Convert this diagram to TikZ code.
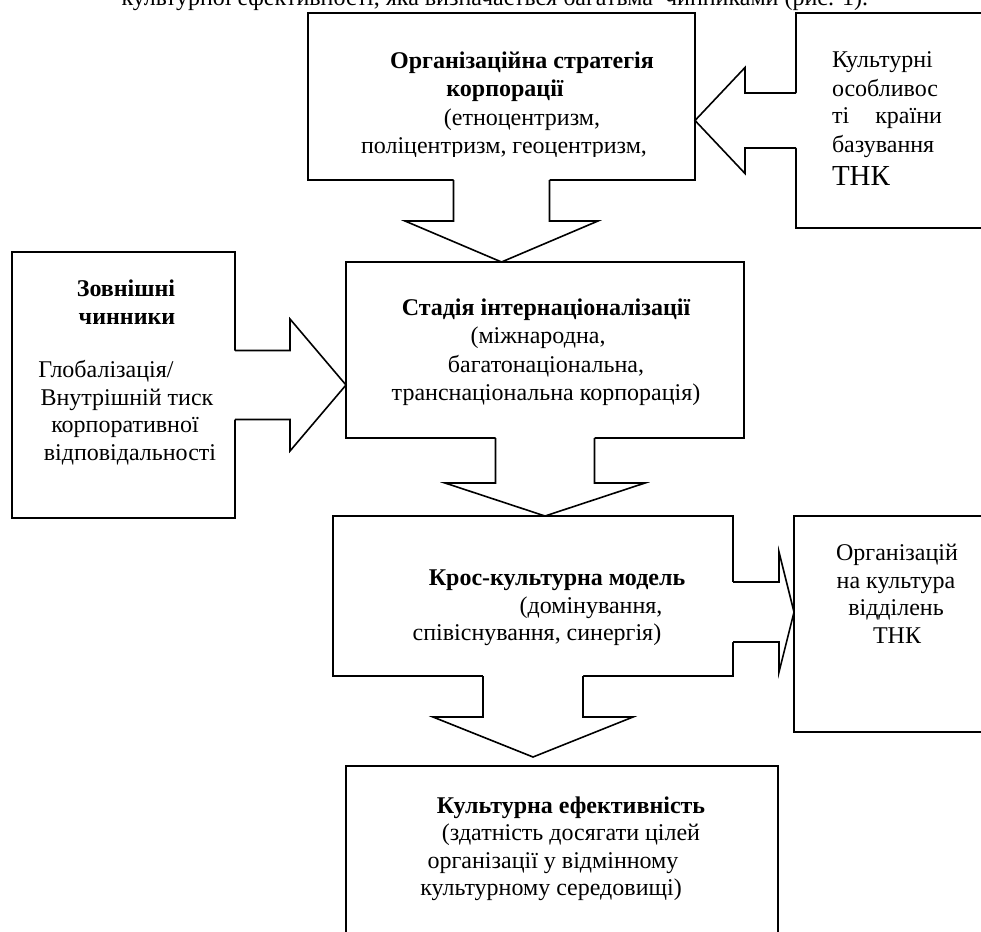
\documentclass[tikz,border=0pt]{standalone}
\usepackage{fontspec}
\setmainfont{Liberation Serif}
\usetikzlibrary{calc}
\tikzset{
  ln/.style={line width=1.6pt, line join=miter},
  box/.style={draw, line width=1.6pt, rectangle, inner sep=0pt, outer sep=0pt, anchor=north west},
  txt/.style={inner sep=0pt, outer sep=0pt, anchor=base, font=\fontsize{24}{28}\selectfont},
  txtb/.style={txt, font=\fontsize{24}{28}\selectfont\bfseries},
}
% vertical callout arrow pointing down: #1 base, #2 tip, #3 half shaft, #4 shaft length, #5 half wing
\newcommand\dncallout[5]{%
  \fill[white] ($(#1)+(-#3,2)$) -- ($(#1)+(-#3,-#4)$) -- ($(#1)+(-#5,-#4)$) -- (#2) -- ($(#1)+(#5,-#4)$) -- ($(#1)+(#3,-#4)$) -- ($(#1)+(#3,2)$) -- cycle;
  \draw[ln] ($(#1)+(-#3,0)$) -- ($(#1)+(-#3,-#4)$) -- ($(#1)+(-#5,-#4)$) -- (#2) -- ($(#1)+(#5,-#4)$) -- ($(#1)+(#3,-#4)$) -- ($(#1)+(#3,0)$);
}
% horizontal callout arrow pointing right
\newcommand\rtcallout[5]{%
  \fill[white] ($(#1)+(-2,#3)$) -- ($(#1)+(#4,#3)$) -- ($(#1)+(#4,#5)$) -- (#2) -- ($(#1)+(#4,-#5)$) -- ($(#1)+(#4,-#3)$) -- ($(#1)+(-2,-#3)$) -- cycle;
  \draw[ln] ($(#1)+(0,#3)$) -- ($(#1)+(#4,#3)$) -- ($(#1)+(#4,#5)$) -- (#2) -- ($(#1)+(#4,-#5)$) -- ($(#1)+(#4,-#3)$) -- ($(#1)+(0,-#3)$);
}
% horizontal callout arrow pointing left
\newcommand\ltcallout[5]{%
  \fill[white] ($(#1)+(2,#3)$) -- ($(#1)+(-#4,#3)$) -- ($(#1)+(-#4,#5)$) -- (#2) -- ($(#1)+(-#4,-#5)$) -- ($(#1)+(-#4,-#3)$) -- ($(#1)+(2,-#3)$) -- cycle;
  \draw[ln] ($(#1)+(0,#3)$) -- ($(#1)+(-#4,#3)$) -- ($(#1)+(-#4,#5)$) -- (#2) -- ($(#1)+(-#4,-#5)$) -- ($(#1)+(-#4,-#3)$) -- ($(#1)+(0,-#3)$);
}
\begin{document}
\begin{tikzpicture}[x=1pt,y=1pt]
\useasboundingbox (0,0) rectangle (981,-931);
\clip (0,0) rectangle (981,-931);
\fill[white] (0,0) rectangle (981,-931);

% boxes
\node[box, minimum width=387pt, minimum height=167pt] (org) at (308,-13) {};
\node[box, minimum width=250pt, minimum height=215pt] (cult) at (796,-13) {};
\node[box, minimum width=223pt, minimum height=266pt] (ext) at (12,-252) {};
\node[box, minimum width=398pt, minimum height=176pt] (stage) at (346,-262) {};
\node[box, minimum width=400pt, minimum height=160pt] (cross) at (333,-516) {};
\node[box, minimum width=250pt, minimum height=216pt] (orgcult) at (794,-516) {};
\node[box, minimum width=432pt, minimum height=250pt] (eff) at (346,-766) {};

% callout arrows
\dncallout{org.south}{org.south |- stage.north}{48}{41}{96.5}
\dncallout{stage.south}{stage.south |- cross.north}{49.5}{45}{100}
\coordinate (efftip) at ($(cross.south |- eff.north)+(0,9)$);
\dncallout{cross.south}{efftip}{50}{41}{100}
\rtcallout{ext.east}{ext.east -| stage.west}{34.5}{55}{66}
\ltcallout{cult.west}{cult.west -| org.east}{27.5}{51}{53}
\coordinate (crossr) at ($(cross.east)+(0,-16)$);
\rtcallout{crossr}{crossr -| orgcult.west}{30}{46}{60}

% top cut text line
\node[txt, anchor=base east] (toptext) at (868,-6) {культурної ефективності, яка визначається багатьма\ \ чинниками (рис. 1).};

% org box text
\node[txtb] (o1) at (522,-69) {Організаційна стратегія};
\node[txtb] (o2) at (505,-97) {корпорації};
\node[txt] (o3) at (522,-125) {(етноцентризм,};
\begin{scope}
\clip (308,-13) rectangle (695,-156);
\node[txt] (o4) at (504,-153) {поліцентризм, геоцентризм,};
\end{scope}

% cult box text
\node[txt, anchor=base west] (c1) at (832,-68) {Культурні};
\node[txt, anchor=base west] (c2) at (832,-97) {особливос};
\node[txt, anchor=base west] (c3) at (832,-123) {\makebox[110pt][s]{ті\hfill країни}};
\node[txt, anchor=base west] (c4) at (832,-152) {базування};
\node[txt, anchor=base west, font=\fontsize{29}{34}\selectfont] (c5) at (832,-185) {ТНК};

% ext box text
\node[txtb] (e1) at (126,-296) {Зовнішні};
\node[txtb] (e2) at (127,-324) {чинники};
\node[txt] (e3) at (106,-377) {Глобалізація/};
\node[txt] (e4) at (127,-405) {Внутрішній тиск};
\node[txt] (e5) at (125,-432) {корпоративної};
\node[txt] (e6) at (130,-460) {відповідальності};

% stage box text
\node[txtb] (s1) at (546,-315) {Стадія інтернаціоналізації};
\node[txt] (s2) at (538,-343) {(міжнародна,};
\node[txt] (s3) at (546,-372) {багатонаціональна,};
\node[txt] (s4) at (546,-400) {транснаціональна корпорація)};

% cross box text
\node[txtb] (k1) at (557,-585) {Крос-культурна модель};
\node[txt] (k2) at (591,-613) {(домінування,};
\node[txt] (k3) at (537,-640) {співіснування, синергія)};

% orgcult box text
\node[txt] (g1) at (897,-560) {Організацій};
\node[txt] (g2) at (896,-588) {на культура};
\node[txt] (g3) at (896,-615) {відділень};
\node[txt] (g4) at (897,-643) {ТНК};

% eff box text
\node[txtb] (f1) at (571,-813) {Культурна ефективність};
\node[txt] (f2) at (571,-840) {(здатність досягати цілей};
\node[txt] (f3) at (553,-868) {організації у відмінному};
\node[txt] (f4) at (551,-895) {культурному середовищі)};
\end{tikzpicture}
\end{document}
